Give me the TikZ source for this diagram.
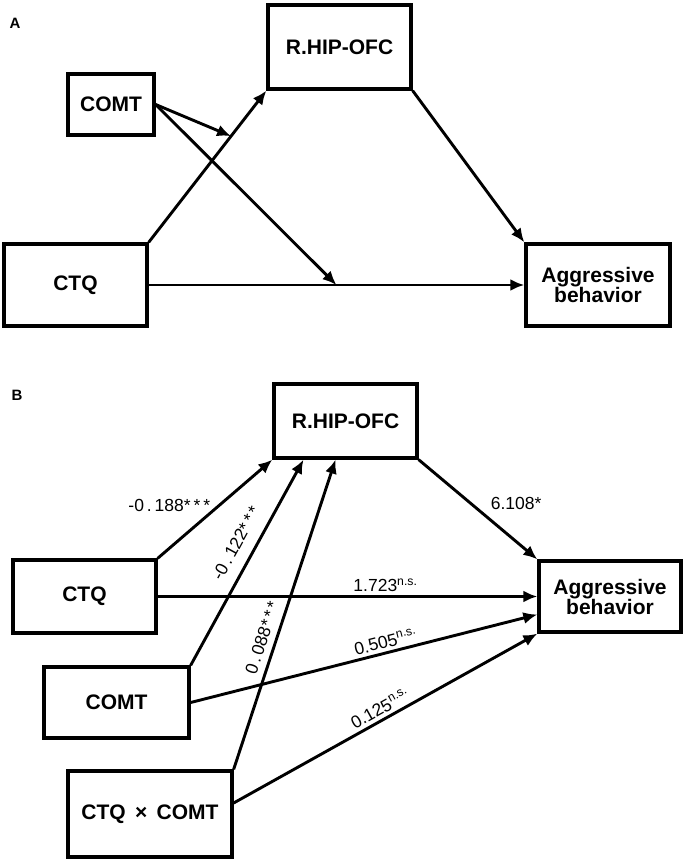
\documentclass[tikz,border=0pt]{standalone}
\usepackage{fontspec}
\setmainfont{Liberation Sans}
\usetikzlibrary{arrows.meta}

\begin{document}
\begin{tikzpicture}[x=1pt,y=-1pt,
  varbox/.style={draw,line width=3.3pt,align=center,inner sep=2pt,font=\bfseries\fontsize{21}{20}\selectfont},
  arr/.style={line width=2.9pt,-{Latex[length=14pt,width=12pt]}},
  coef/.style={font=\fontsize{17.5}{18}\selectfont},
  panel/.style={font=\bfseries\fontsize{15}{16}\selectfont}]

\useasboundingbox (0,0) rectangle (683,860);

\node [panel] (labA) at (15,23) {A};
\node [varbox,minimum width=143pt,minimum height=84pt] (aRhip) at (339.5,47) {R.HIP-OFC};
\node [varbox,minimum width=86pt,minimum height=61pt] (aComt) at (111,104.5) {COMT};
\node [varbox,minimum width=143pt,minimum height=82pt] (aCtq) at (75.5,285) {CTQ};
\node [varbox,minimum width=144pt,minimum height=82pt] (aAgg) at (598,285) {Aggressive\\behavior};

\draw [arr] (aCtq.north east) -- coordinate[pos=0.7] (aUpMid) (aRhip.south west);
\draw [arr] (aCtq.east) -- coordinate[pos=0.5] (aLowMid) (aAgg.west);
\draw [arr] (aRhip.south east) -- (aAgg.north west);
\draw [arr] (aComt.east) -- (aUpMid);
\draw [arr] (aComt.east) -- (aLowMid);

\node [panel] (labB) at (17,395) {B};
\node [varbox,minimum width=143pt,minimum height=74pt] (bRhip) at (345.5,421) {R.HIP-OFC};
\node [varbox,minimum width=143pt,minimum height=73pt] (bCtq) at (84.5,596.5) {CTQ};
\node [varbox,minimum width=142pt,minimum height=71pt] (bAgg) at (610,596.5) {Aggressive\\behavior};
\node [varbox,minimum width=145pt,minimum height=71pt] (bComt) at (116.5,702.5) {COMT};
\node [varbox,minimum width=164pt,minimum height=86pt] (bInt) at (150,814) {CTQ \,×\, COMT};

\draw [arr] (bCtq.north east) -- node[coef,midway,left,yshift=4pt] {-0\,.\,188*\,*\,*} (bRhip.south west);
\draw [arr] (bComt.north east) -- node[coef,pos=0.55,sloped,above=8pt] {-0\,.\,122*\,*\,*} ([xshift=-42pt]bRhip.south);
\draw [arr] (bInt.north east) -- node[coef,pos=0.41,sloped,above=3pt] {0\,.\,088*\,*\,*} ([xshift=-10pt]bRhip.south);
\draw [arr] (bRhip.south east) -- node[coef,midway,right,xshift=8pt,yshift=6pt] {6.108*} (bAgg.north west);
\draw [arr] (bCtq.east) -- node[coef,pos=0.6,above] {1.723\textsuperscript{n.s.}} (bAgg.west);
\draw [arr] (bComt.east) -- node[coef,pos=0.57,sloped,above] {0.505\textsuperscript{n.s.}} ([yshift=-18pt]bAgg.west);
\draw [arr] ([yshift=11pt]bInt.east) -- node[coef,midway,sloped,above] {0.125\textsuperscript{n.s.}} (bAgg.south west);
\end{tikzpicture}
\end{document}
